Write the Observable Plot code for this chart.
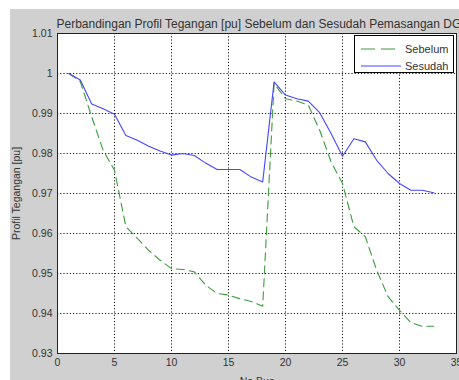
<!DOCTYPE html>
<html>
<head>
<meta charset="utf-8">
<script src="https://cdn.jsdelivr.net/npm/d3@7"></script>
<script src="https://cdn.jsdelivr.net/npm/@observablehq/plot@0.6"></script>
<style>
  body { margin: 0; background: #fff; width: 459px; height: 380px; overflow: hidden; position: relative; font-family: "Liberation Sans", Arial, sans-serif; }
  #chart { position: absolute; left: 10px; top: 9px; }
  #legend { position: absolute; left: 354px; top: 35px; width: 100px; height: 38px; background: #fff; border: 1px solid #000; box-sizing: border-box; font-size: 11px; color: #333; }
  .row { position: absolute; left: 0; height: 14px; display: flex; align-items: center; }
  .row svg { margin-left: 6px; }
  .row span { margin-left: 4px; }
</style>
</head>
<body>
<div id="chart"></div>
<div id="legend"></div>
<script>
const title = "Perbandingan Profil Tegangan [pu] Sebelum dan Sesudah Pemasangan DG";
const xLabel = "No Bus";
const yLabel = "Profil Tegangan [pu]";
const seriesNames = ["Sebelum", "Sesudah"];
const seriesColors = ["#3c9c3c", "#4646ff"];
const bus = [1,2,3,4,5,6,7,8,9,10,11,12,13,14,15,16,17,18,19,20,21,22,23,24,25,26,27,28,29,30,31,32,33];
const sebelum = [1.0000,0.9980,0.9892,0.9808,0.9758,0.9617,0.9588,0.9558,0.9533,0.9512,0.9510,0.9504,0.9471,0.9450,0.9446,0.9437,0.9430,0.9418,0.9975,0.9937,0.9931,0.9921,0.9858,0.9779,0.9725,0.9617,0.9592,0.9508,0.9442,0.9408,0.9377,0.9368,0.9368];
const sesudah = [1.0000,0.9984,0.9924,0.9912,0.9898,0.9845,0.9833,0.9818,0.9806,0.9796,0.9800,0.9795,0.9776,0.9760,0.9760,0.9760,0.9741,0.9729,0.9979,0.9946,0.9937,0.9931,0.9902,0.9850,0.9793,0.9837,0.9829,0.9783,0.9750,0.9725,0.9708,0.9708,0.9702];
const xTicks = [0,5,10,15,20,25,30,35];
const yTicks = [0.93,0.94,0.95,0.96,0.97,0.98,0.99,1.00,1.01];

const rows = [];
bus.forEach((b, i) => {
  rows.push({bus: b, v: sebelum[i], s: seriesNames[0]});
  rows.push({bus: b, v: sesudah[i], s: seriesNames[1]});
});

const chart = Plot.plot({
  width: 449,
  height: 371,
  marginLeft: 47,
  marginRight: 3,
  marginTop: 24,
  marginBottom: 27,
  style: { background: "#d0d0d0", fontFamily: "Liberation Sans, Arial, sans-serif", fontSize: "10.5px", color: "#333", overflow: "visible" },
  x: { domain: [0, 35], ticks: xTicks, tickSize: 0, tickPadding: 5, label: xLabel, labelArrow: "none", labelAnchor: "center", labelOffset: 31 },
  y: { domain: [0.93, 1.01], ticks: yTicks, tickSize: 0, tickPadding: 5, tickFormat: d => String(+d.toFixed(2)), label: yLabel, labelArrow: "none", labelAnchor: "center", labelOffset: 45 },
  color: { domain: seriesNames, range: seriesColors },
  marks: [
    Plot.frame({ fill: "#fff", stroke: null }),
    Plot.ruleX(xTicks.slice(1, -1), { stroke: "#000", strokeDasharray: "1.2,2", strokeOpacity: 0.9 }),
    Plot.ruleY(yTicks.slice(1, -1), { stroke: "#000", strokeDasharray: "1.2,2", strokeOpacity: 0.9 }),
    Plot.line(rows.filter(d => d.s === seriesNames[0]), { x: "bus", y: "v", stroke: seriesColors[0], strokeWidth: 1.1, strokeDasharray: "8,5" }),
    Plot.line(rows.filter(d => d.s === seriesNames[1]), { x: "bus", y: "v", stroke: seriesColors[1], strokeWidth: 1.1 }),
    Plot.frame({ stroke: "#222", strokeWidth: 1 }),
    Plot.text([title], { frameAnchor: "top-left", dx: -1, dy: -14, textAnchor: "start", fontSize: 12, fill: "#333", text: d => d })
  ]
});
document.getElementById("chart").appendChild(chart);

const legend = document.getElementById("legend");
seriesNames.forEach((name, i) => {
  const row = document.createElement("div");
  row.className = "row";
  row.style.top = (6 + i * 17) + "px";
  const dash = i === 0 ? "stroke-dasharray='14,6'" : "";
  row.innerHTML = `<svg width="40" height="4"><line x1="0" y1="2" x2="40" y2="2" stroke="${seriesColors[i]}" stroke-width="1.2" ${dash}/></svg><span>${name}</span>`;
  legend.appendChild(row);
});
</script>
</body>
</html>
